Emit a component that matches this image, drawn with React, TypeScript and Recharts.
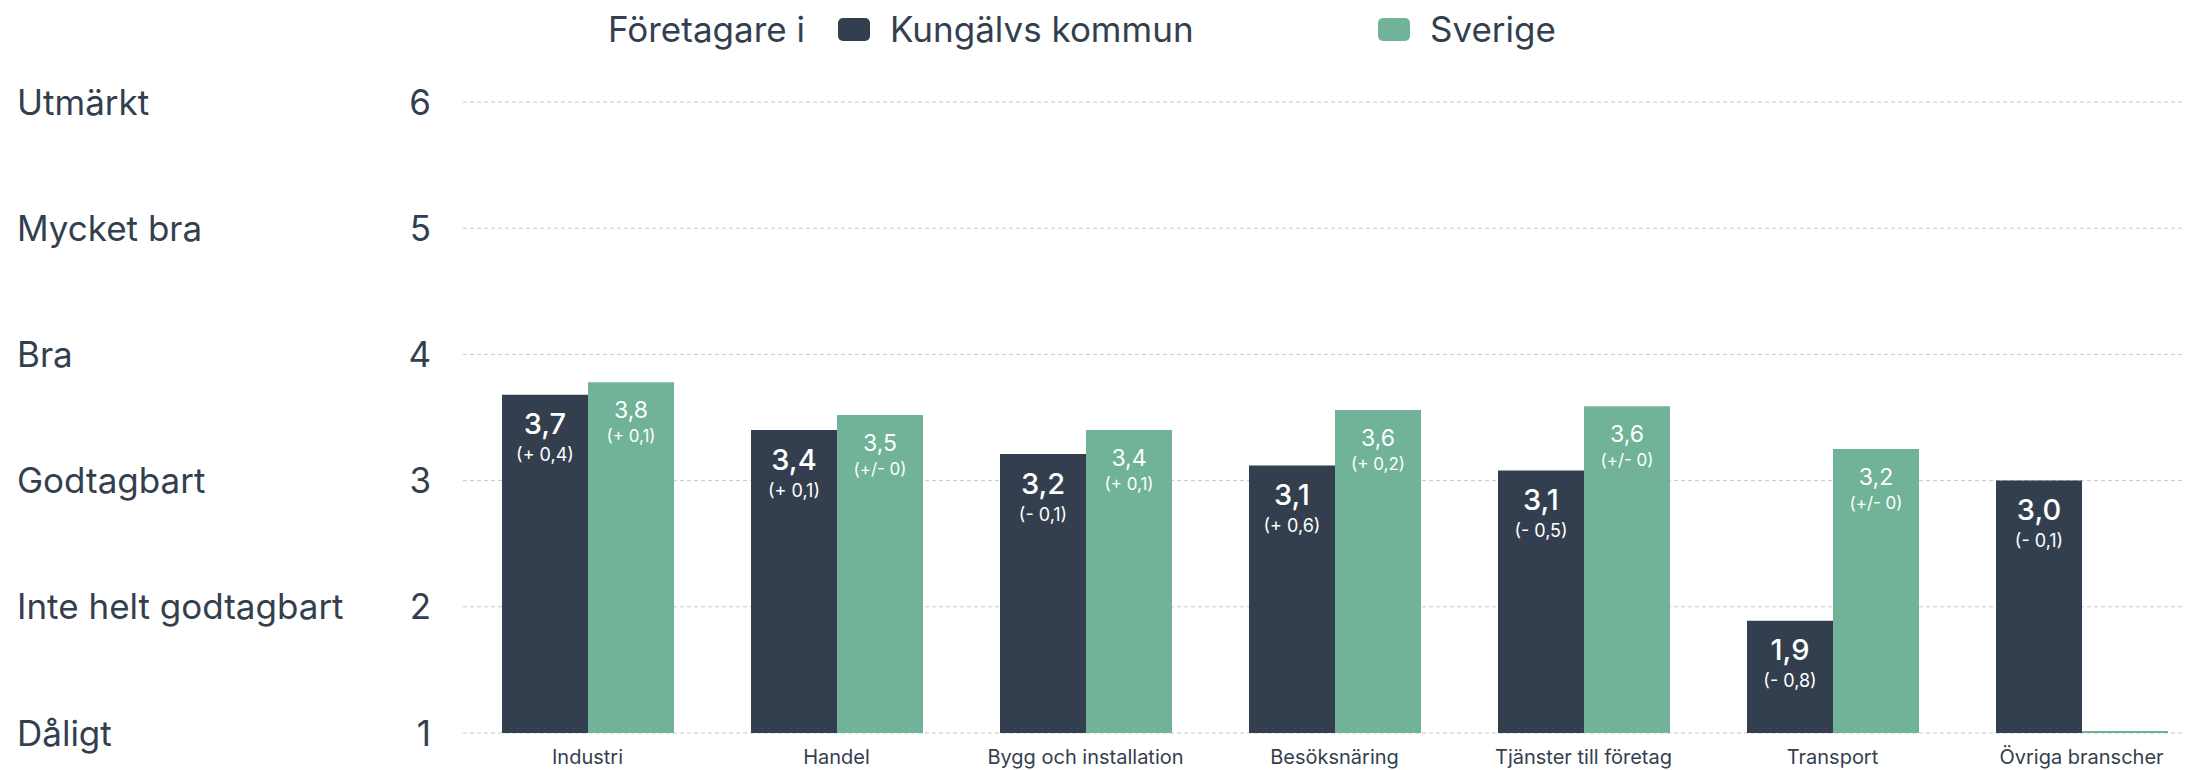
import React from "react";
import { BarChart, Bar, XAxis, YAxis, CartesianGrid, Legend, LabelList } from "recharts";

const categories = [
  "Industri",
  "Handel",
  "Bygg och installation",
  "Besöksnäring",
  "Tjänster till företag",
  "Transport",
  "Övriga branscher",
];
const kungalvValues = [3.68, 3.4, 3.21, 3.12, 3.08, 1.89, 3.0];
const sverigeValues = [3.78, 3.52, 3.4, 3.56, 3.59, 3.25, 1.0];
const kungalvLabels = ["3,7", "3,4", "3,2", "3,1", "3,1", "1,9", "3,0"];
const kungalvChanges = ["(+ 0,4)", "(+ 0,1)", "(- 0,1)", "(+ 0,6)", "(- 0,5)", "(- 0,8)", "(- 0,1)"];
const sverigeLabels = ["3,8", "3,5", "3,4", "3,6", "3,6", "3,2", ""];
const sverigeChanges = ["(+ 0,1)", "(+/- 0)", "(+ 0,1)", "(+ 0,2)", "(+/- 0)", "(+/- 0)", ""];
const yTicks = [1, 2, 3, 4, 5, 6];
const yTickNames = ["Dåligt", "Inte helt godtagbart", "Godtagbart", "Bra", "Mycket bra", "Utmärkt"];
const seriesNames = ["Kungälvs kommun", "Sverige"];
const legendPrefix = "Företagare i";

const DARK = "#333f4e";
const GREEN = "#70b398";
const TEXT = "#333f4f";
const FONT = "Inter, 'Noto Sans', sans-serif";

const data = categories.map((c, i) => ({
  name: c,
  kungalv: kungalvValues[i],
  sverige: sverigeValues[i],
}));

const YTick = (props: any) => {
  const { y, payload } = props;
  const idx = yTicks.indexOf(payload.value);
  return (
    <g>
      <text x={17} y={y} dy="0.36em" textAnchor="start" fontSize={35} fill={TEXT} fontFamily={FONT}>
        {yTickNames[idx]}
      </text>
      <text x={431} y={y} dy="0.36em" textAnchor="end" fontSize={35} fill={TEXT} fontFamily={FONT}>
        {payload.value}
      </text>
    </g>
  );
};

const XTick = (props: any) => {
  const { x, y, payload } = props;
  return (
    <text x={x} y={y + 16} dy="0.36em" textAnchor="middle" fontSize={20} fill={TEXT} fontFamily={FONT}>
      {payload.value}
    </text>
  );
};

const makeLabel = (labels: string[], changes: string[], big: boolean) => (props: any) => {
  const { x, y, width, index } = props;
  if (index == null || !labels[index]) return null;
  const cx = Number(x) + Number(width) / 2;
  const top = Number(y);
  return (
    <g>
      <text
        x={cx}
        y={top + (big ? 29 : 28)}
        dy="0.36em"
        textAnchor="middle"
        fontSize={big ? 29 : 23}
        fontWeight={big ? 500 : 400}
        fill="#ffffff"
        fontFamily={FONT}
      >
        {labels[index]}
      </text>
      <text
        x={cx}
        y={top + (big ? 60 : 54)}
        dy="0.36em"
        textAnchor="middle"
        fontSize={big ? 18 : 17}
        fill="#ffffff"
        fontFamily={FONT}
      >
        {changes[index]}
      </text>
    </g>
  );
};

const LegendContent = () => {
  const colors = [DARK, GREEN];
  return (
    <div style={{ position: "relative", width: 2185, height: 60, fontFamily: FONT, color: TEXT, fontSize: 35 }}>
      <span style={{ position: "absolute", left: 608, top: 8, lineHeight: "42px", whiteSpace: "nowrap" }}>
        {legendPrefix}
      </span>
      {seriesNames.map((n, i) => (
        <div
          key={n}
          style={{ position: "absolute", left: 838 + i * 540, top: 8, height: 42, display: "flex", alignItems: "center", whiteSpace: "nowrap" }}
        >
          <span style={{ display: "inline-block", width: 32, height: 23, borderRadius: 5, background: colors[i], marginRight: 20 }} />
          <span style={{ lineHeight: "42px" }}>{n}</span>
        </div>
      ))}
    </div>
  );
};

export default function App() {
  return (
    <div style={{ position: "absolute", left: 0, top: 0, width: 2185, height: 770, overflow: "hidden", background: "#fff" }}>
      <BarChart
        width={2206}
        height={770}
        data={data}
        margin={{ top: 102, right: 0, bottom: 0, left: 0 }}
        barGap={0}
      >
        <CartesianGrid vertical={false} stroke="#c8c8c8" strokeDasharray="4 3" />
        <XAxis dataKey="name" axisLine={false} tickLine={false} height={37} tick={<XTick />} interval={0} />
        <YAxis
          domain={[1, 6]}
          ticks={yTicks}
          axisLine={false}
          tickLine={false}
          width={463}
          tick={<YTick />}
          interval={0}
        />
        <Legend
          verticalAlign="middle"
          align="center"
          layout="horizontal"
          wrapperStyle={{ top: 0, left: 0, width: 2185, height: 60 }}
          content={<LegendContent />}
        />
        <Bar dataKey="kungalv" name={seriesNames[0]} fill={DARK} barSize={86} isAnimationActive={false}>
          <LabelList dataKey="kungalv" content={makeLabel(kungalvLabels, kungalvChanges, true)} />
        </Bar>
        <Bar dataKey="sverige" name={seriesNames[1]} fill={GREEN} barSize={86} minPointSize={2} isAnimationActive={false}>
          <LabelList dataKey="sverige" content={makeLabel(sverigeLabels, sverigeChanges, false)} />
        </Bar>
      </BarChart>
    </div>
  );
}
